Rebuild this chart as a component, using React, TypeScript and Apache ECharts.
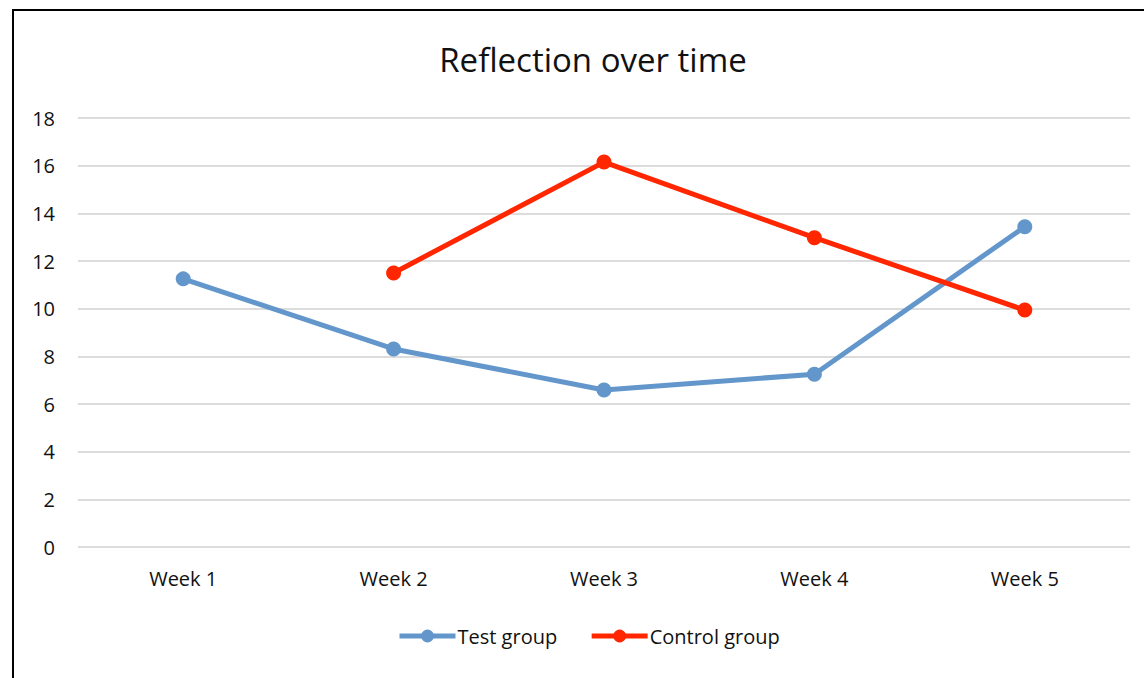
import React, { useEffect, useRef } from "react";
import * as echarts from "echarts";

const categories = ["Week 1", "Week 2", "Week 3", "Week 4", "Week 5"];
const testGroup = [11.25, 8.31, 6.59, 7.25, 13.44];
const controlGroup: (number | null)[] = [null, 11.5, 16.15, 12.98, 9.94];
const yTicks = { min: 0, max: 18, interval: 2 };
const FONT = "'Open Sans', 'Liberation Sans', sans-serif";

export default function App() {
  const ref = useRef<HTMLDivElement>(null);
  useEffect(() => {
    document.body.style.margin = "0";
    const chart = echarts.init(ref.current!, null, { renderer: "svg" });
    chart.setOption({
      animation: false,
      backgroundColor: "#ffffff",
      textStyle: { fontFamily: FONT },
      title: {
        text: "Reflection over time",
        left: 588,
        textAlign: "center",
        top: 38,
        textStyle: { fontFamily: FONT, fontSize: 33, fontWeight: "normal", color: "#111" },
      },
      graphic: [
        {
          type: "rect",
          shape: { x: 13, y: 10, width: 1200, height: 720 },
          style: { fill: "none", stroke: "#000", lineWidth: 2 },
          silent: true,
        },
      ],
      legend: {
        bottom: 27,
        left: 392,
        itemWidth: 56,
        itemHeight: 16,
        itemGap: 32,
        lineStyle: { width: 5 },
        textStyle: { fontFamily: FONT, fontSize: 20, color: "#111", padding: [0, 0, 0, -3] },
        data: ["Test group", "Control group"],
      },
      grid: { left: 78, right: 14, top: 118, bottom: 131, containLabel: false },
      xAxis: {
        type: "category",
        data: categories,
        boundaryGap: true,
        axisLine: { show: false },
        axisTick: { show: false },
        axisLabel: { fontFamily: FONT, fontSize: 20, color: "#111", margin: 21 },
      },
      yAxis: {
        type: "value",
        min: yTicks.min,
        max: yTicks.max,
        interval: yTicks.interval,
        axisLine: { show: false },
        axisTick: { show: false },
        axisLabel: { fontFamily: FONT, fontSize: 20, color: "#111", margin: 23 },
        splitLine: { lineStyle: { color: "#dcdcdc", width: 2 } },
      },
      series: [
        {
          name: "Test group",
          type: "line",
          data: testGroup,
          symbol: "circle",
          symbolSize: 15,
          lineStyle: { color: "#6397CB", width: 5 },
          itemStyle: { color: "#6397CB" },
        },
        {
          name: "Control group",
          type: "line",
          data: controlGroup,
          symbol: "circle",
          symbolSize: 15,
          connectNulls: false,
          lineStyle: { color: "#FF2600", width: 5 },
          itemStyle: { color: "#FF2600" },
        },
      ],
    });
    return () => chart.dispose();
  }, []);
  return <div ref={ref} style={{ width: 1144, height: 678 }} />;
}
